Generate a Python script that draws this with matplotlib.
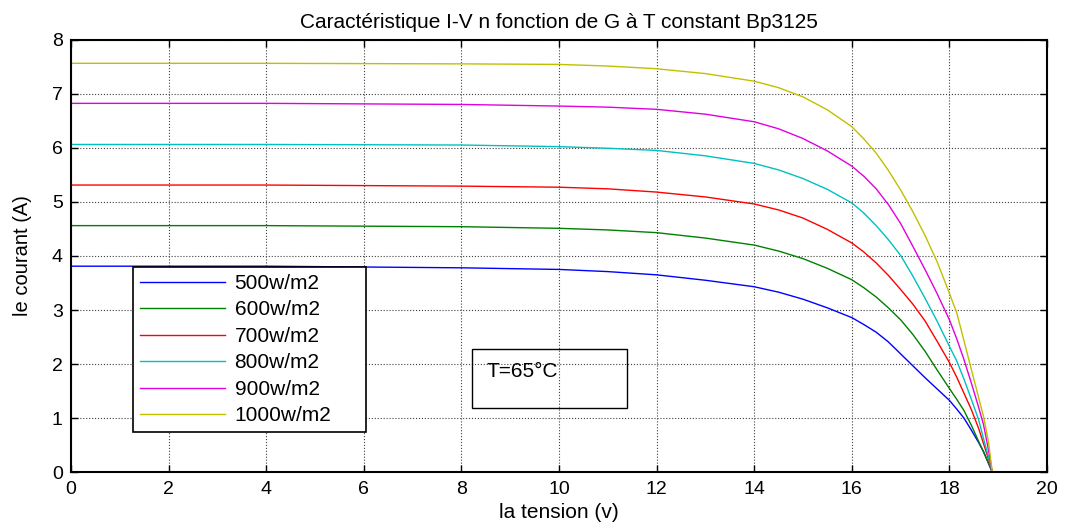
import matplotlib
matplotlib.use("Agg")
import matplotlib.pyplot as plt
from matplotlib.patches import Rectangle

plt.rcParams['font.family'] = ['Liberation Sans', 'DejaVu Sans']

# Voltage sample points (V)
voltage = [0, 4, 8, 10, 11, 12, 13, 14, 14.5, 15, 15.5, 16, 16.25, 16.5, 16.75,
           17, 17.25, 17.5, 17.75, 18, 18.15, 18.3, 18.45, 18.6, 18.7, 18.8, 18.88]

# Currents (A) for each irradiance
i_500 = [3.81, 3.81, 3.78, 3.75, 3.71, 3.65, 3.55, 3.43, 3.33, 3.20, 3.04, 2.86, 2.73, 2.59, 2.41,
         2.19, 1.97, 1.75, 1.54, 1.33, 1.17, 1.00, 0.78, 0.55, 0.38, 0.17, 0.0]
i_600 = [4.56, 4.56, 4.54, 4.51, 4.48, 4.43, 4.33, 4.20, 4.09, 3.95, 3.77, 3.56, 3.41, 3.24, 3.04,
         2.82, 2.55, 2.24, 1.89, 1.55, 1.35, 1.14, 0.87, 0.57, 0.38, 0.17, 0.0]
i_700 = [5.31, 5.31, 5.29, 5.27, 5.24, 5.18, 5.09, 4.96, 4.85, 4.70, 4.49, 4.24, 4.07, 3.87, 3.64,
         3.38, 3.11, 2.80, 2.42, 2.03, 1.76, 1.46, 1.16, 0.81, 0.53, 0.25, 0.0]
i_800 = [6.06, 6.06, 6.05, 6.02, 5.99, 5.95, 5.85, 5.71, 5.59, 5.43, 5.23, 4.98, 4.79, 4.56, 4.30,
         4.01, 3.63, 3.22, 2.79, 2.33, 2.06, 1.72, 1.35, 0.97, 0.62, 0.29, 0.0]
i_900 = [6.82, 6.82, 6.80, 6.77, 6.75, 6.71, 6.62, 6.48, 6.35, 6.17, 5.94, 5.66, 5.47, 5.24, 4.95,
         4.60, 4.18, 3.75, 3.30, 2.82, 2.47, 2.08, 1.65, 1.20, 0.88, 0.42, 0.0]
i_1000 = [7.56, 7.56, 7.55, 7.54, 7.51, 7.46, 7.37, 7.23, 7.11, 6.94, 6.70, 6.39, 6.16, 5.90, 5.58,
          5.22, 4.82, 4.38, 3.89, 3.31, 2.95, 2.43, 1.90, 1.38, 1.03, 0.57, 0.0]

labels = ['500w/m2', '600w/m2', '700w/m2', '800w/m2', '900w/m2', '1000w/m2']
colors = ['#0000ff', '#008000', '#ff0000', '#00c0c0', '#e000e0', '#c0c000']
series = [i_500, i_600, i_700, i_800, i_900, i_1000]

title = "Caractéristique I-V n fonction de G à T constant Bp3125"
xlabel = "la tension (v)"
ylabel = "le courant (A)"
annot = "T=65°C"

fig = plt.figure(figsize=(10.69, 5.27), dpi=100)
ax = fig.add_axes([0.0664, 0.1038, 0.9130, 0.8212])

for cur, lab, col in zip(series, labels, colors):
    ax.plot(voltage, cur, color=col, lw=1.0, label=lab)

ax.set_xlim(0, 20)
ax.set_ylim(0, 8)
ax.set_xticks(range(0, 21, 2))
ax.set_yticks(range(0, 9, 1))
ax.grid(True, color='0.25', linestyle=':', linewidth=0.8)
ax.tick_params(direction='in', length=5, width=1, top=True, right=True,
               labelsize=14, pad=6, colors='black')
for s in ax.spines.values():
    s.set_linewidth(1.5)

ax.set_title(title, fontsize=15, pad=8)
ax.set_xlabel(xlabel, fontsize=15, labelpad=4)
ax.set_ylabel(ylabel, fontsize=14.5, labelpad=14)

leg = ax.legend(loc='upper left', bbox_to_anchor=(0.0632, 0.275, 0.2387, 0.2),
                mode='expand', borderaxespad=0, fontsize=15, handlelength=4.1,
                labelspacing=0.36, borderpad=0.34, handletextpad=0.45,
                fancybox=False, framealpha=1, edgecolor='black')
leg.get_frame().set_linewidth(1.2)

ax.add_patch(Rectangle((0.4105, 0.1479), 0.1594, 0.1363, transform=ax.transAxes,
                       fill=False, edgecolor='black', lw=1.0, zorder=5))
ax.text(0.426, 0.2324, annot, transform=ax.transAxes, fontsize=15,
        va='center', ha='left', zorder=6)

fig.savefig('out.png', dpi=100)
